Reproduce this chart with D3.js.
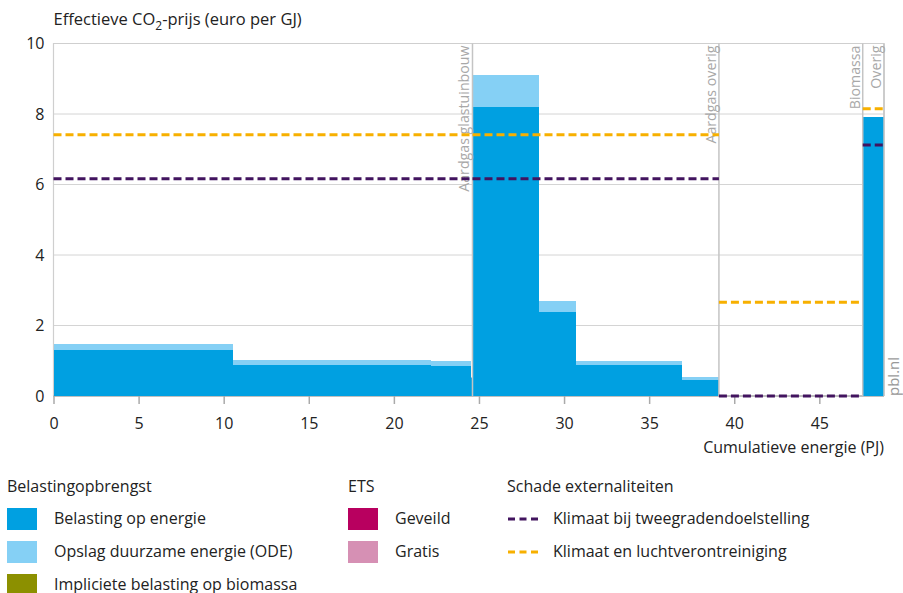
<!DOCTYPE html>
<html>

<head>
	<title>Effectieve CO2-prijs</title>
	<meta charset="utf-8">
	<script src="https://d3js.org/d3.v7.min.js"></script>
	<style>
		body {
			padding: 0;
			margin: 0;
			background: #fff;
		}

		svg text {
			font-family: "Open Sans", "Noto Sans", sans-serif;
			fill: #222;
		}

		.grid line {
			stroke: #d4d4d4;
			stroke-width: 1;
		}

		.sector_label {
			fill: #a8a8a8 !important;
			font-size: 14.2px;
		}
	</style>
</head>

<body>
	<div id="graph"></div>
	<script>
		// bars: start and end (cumulative PJ), energy tax and ODE surcharge on top
		var barStart = [0, 10.52, 22.17, 24.55, 24.65, 28.55, 30.69, 36.95, 47.58];
		var barEnd = [10.52, 22.17, 24.55, 24.65, 28.55, 30.69, 36.95, 39.1, 48.8];
		var belasting = [1.31, 0.89, 0.86, 0.50, 8.20, 2.37, 0.87, 0.46, 7.91];
		var ode = [0.17, 0.14, 0.13, 0.05, 0.91, 0.33, 0.13, 0.09, 0.0];

		// sectors (vertical dividers) and external damage per sector
		var sectorNames = ["Aardgas glastuinbouw", "Aardgas overig", "Biomassa", "Overig"];
		var sectorStart = [0, 24.62, 39.1, 47.55];
		var sectorEnd = [24.62, 39.1, 47.55, 48.8];
		var klimaat2graden = [6.16, 6.16, 0, 7.12];
		var klimaatLucht = [7.41, 7.41, 2.66, 8.15];

		var xTicks = [0, 5, 10, 15, 20, 25, 30, 35, 40, 45];
		var yTicks = [0, 2, 4, 6, 8, 10];

		var colors = {
			energie: "#00a0e1",
			ode: "#85d0f5",
			biomassa: "#8c9000",
			geveild: "#b8005f",
			gratis: "#d690b4",
			paars: "#42145f",
			oranje: "#f7b000"
		};

		var W = 903, H = 593;
		var margin = { left: 53.5, right: 19, top: 43.5, bottom: 197 };
		var fs = "16px";

		var svg = d3.select("#graph").append("svg")
			.attr("width", W)
			.attr("height", H);

		var x = d3.scaleLinear().domain([0, 48.8]).range([margin.left, W - margin.right]);
		var y = d3.scaleLinear().domain([0, 10]).range([H - margin.bottom, margin.top]);

		//horizontal grid lines
		svg.append("g").attr("class", "grid")
			.selectAll("line").data(yTicks.slice(1)).enter().append("line")
			.attr("x1", x(0)).attr("x2", x(48.8))
			.attr("y1", function (d) { return y(d); })
			.attr("y2", function (d) { return y(d); });

		//frame left / top / right
		svg.append("path")
			.attr("d", "M" + x(0) + "," + y(0) + "V" + y(10) + "H" + x(48.8) + "V" + y(0))
			.attr("fill", "none").attr("stroke", "#cfcfcf").attr("stroke-width", 1.2);

		//x axis (before the bars and dashes, so those sit on top)
		var xAxis = svg.append("g")
			.attr("transform", "translate(0," + y(0) + ")")
			.call(d3.axisBottom(x).tickValues(xTicks).tickSize(8).tickPadding(14).tickSizeOuter(0));
		xAxis.select(".domain").attr("stroke", "#aaa").attr("stroke-width", 1.5)
			.attr("d", "M" + x(0) + ",0H" + x(48.8));
		xAxis.selectAll(".tick line").attr("stroke", "#aaa").attr("stroke-width", 1.5);
		xAxis.selectAll("text").attr("font-size", fs).attr("fill", "#222");

		//energy tax bars
		svg.append("g").attr("shape-rendering", "crispEdges")
			.selectAll("rect").data(belasting).enter().append("rect")
			.attr("x", function (d, i) { return x(barStart[i]); })
			.attr("width", function (d, i) { return x(barEnd[i]) - x(barStart[i]); })
			.attr("y", function (d) { return y(d); })
			.attr("height", function (d) { return y(0) - y(d); })
			.attr("fill", colors.energie);

		//ODE surcharge stacked on top
		svg.append("g").attr("shape-rendering", "crispEdges")
			.selectAll("rect").data(ode).enter().append("rect")
			.attr("x", function (d, i) { return x(barStart[i]); })
			.attr("width", function (d, i) { return x(barEnd[i]) - x(barStart[i]); })
			.attr("y", function (d, i) { return y(belasting[i] + d); })
			.attr("height", function (d, i) { return y(belasting[i]) - y(belasting[i] + d); })
			.attr("fill", colors.ode);

		//sector dividers + rotated labels
		svg.append("g").selectAll("line").data(sectorEnd).enter().append("line")
			.attr("x1", function (d) { return x(d); }).attr("x2", function (d) { return x(d); })
			.attr("y1", y(10)).attr("y2", y(0))
			.attr("stroke", "#c4c4c4").attr("stroke-width", 1.5);

		svg.append("g").selectAll("text").data(sectorNames).enter().append("text")
			.attr("class", "sector_label")
			.attr("transform", function (d, i) { return "translate(" + (x(sectorEnd[i]) - 3) + "," + (y(10) + 2) + ") rotate(-90)"; })
			.attr("text-anchor", "end")
			.text(function (d) { return d; });

		//damage lines (dashed), one piece per sector
		function damage(vals, col) {
			svg.append("g").selectAll("line").data(vals).enter().append("line")
				.attr("x1", function (d, i) { return x(sectorStart[i]); })
				.attr("x2", function (d, i) { return x(sectorEnd[i]); })
				.attr("y1", function (d) { return y(d); })
				.attr("y2", function (d) { return y(d); })
				.attr("stroke", col).attr("stroke-width", 3)
				.attr("stroke-dasharray", "8,4");
		}
		damage(klimaatLucht, colors.oranje);
		damage(klimaat2graden, colors.paars);

		//y axis labels
		var yAxis = svg.append("g")
			.attr("transform", "translate(" + x(0) + ",0)")
			.call(d3.axisLeft(y).tickValues(yTicks).tickSize(0).tickPadding(9));
		yAxis.select(".domain").remove();
		yAxis.selectAll("text").attr("font-size", fs).attr("fill", "#222");

		//titles
		var title = svg.append("text").attr("x", x(0)).attr("y", 25).attr("font-size", "16.5px");
		title.append("tspan").text("Effectieve CO");
		title.append("tspan").attr("font-size", "12px").attr("dy", 5).text("2");
		title.append("tspan").attr("dy", -5).text("-prijs (euro per GJ)");

		svg.append("text").attr("x", x(48.8)).attr("y", 453)
			.attr("text-anchor", "end").attr("font-size", fs)
			.text("Cumulatieve energie (PJ)");

		svg.append("text")
			.attr("transform", "translate(" + (W - 4) + "," + y(0) + ") rotate(-90)")
			.attr("font-size", "15px").style("fill", "#999")
			.text("pbl.nl");

		//legend
		var lg = svg.append("g").attr("font-size", fs);
		var legHeads = [["Belastingopbrengst", 7], ["ETS", 348], ["Schade externaliteiten", 507]];
		lg.selectAll(".head").data(legHeads).enter().append("text")
			.attr("x", function (d) { return d[1]; }).attr("y", 492)
			.text(function (d) { return d[0]; });

		var legBoxes = [
			[7, 0, colors.energie, "Belasting op energie"],
			[7, 1, colors.ode, "Opslag duurzame energie (ODE)"],
			[7, 2, colors.biomassa, "Impliciete belasting op biomassa"],
			[348, 0, colors.geveild, "Geveild"],
			[348, 1, colors.gratis, "Gratis"]
		];
		legBoxes.forEach(function (d) {
			var yy = 508 + d[1] * 33;
			lg.append("rect").attr("x", d[0]).attr("y", yy).attr("width", 30).attr("height", 22).attr("fill", d[2]);
			lg.append("text").attr("x", d[0] + 47).attr("y", yy + 15.5).text(d[3]);
		});

		var legLines = [[colors.paars, "Klimaat bij tweegradendoelstelling"], [colors.oranje, "Klimaat en luchtverontreiniging"]];
		legLines.forEach(function (d, i) {
			var yy = 519 + i * 33;
			lg.append("line").attr("x1", 508).attr("x2", 538).attr("y1", yy).attr("y2", yy)
				.attr("stroke", d[0]).attr("stroke-width", 3).attr("stroke-dasharray", "7,4.5");
			lg.append("text").attr("x", 553).attr("y", yy + 4.5).text(d[1]);
		});
	</script>
</body>

</html>
